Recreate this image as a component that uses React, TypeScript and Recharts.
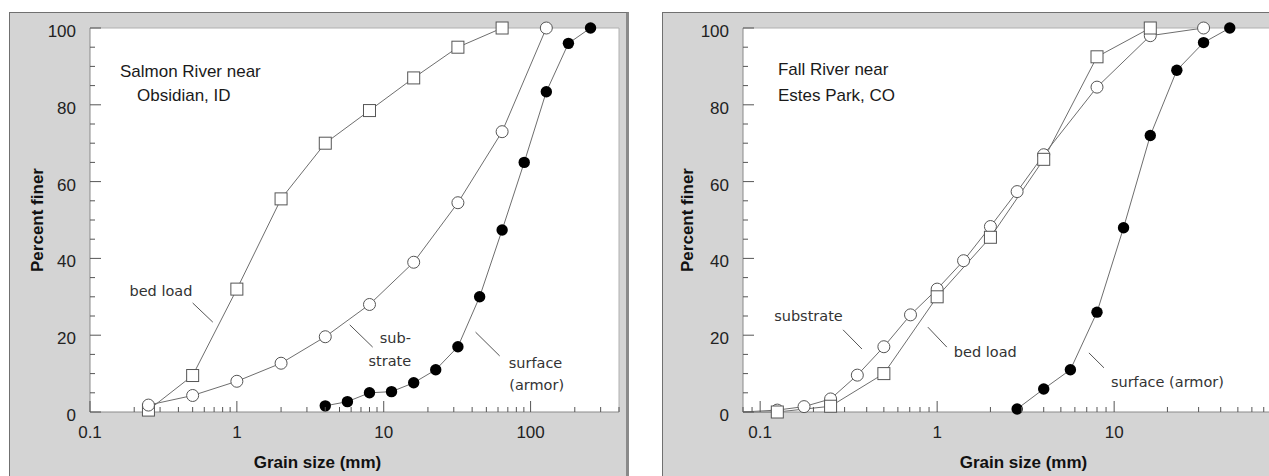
import React from 'react';
import {
  LineChart,
  Line,
  XAxis,
  YAxis,
  CartesianGrid,
  Label,
  ReferenceDot,
  ReferenceLine,
} from 'recharts';

// Salmon River near Obsidian, ID  (grain size in mm, percent finer)
const salmonBedLoadSize = [0.25, 0.5, 1, 2, 4, 8, 16, 32, 64];
const salmonBedLoadFiner = [0.5, 9.5, 32, 55.5, 70, 78.5, 87, 95, 100];
const salmonSubstrateSize = [0.25, 0.5, 1, 2, 4, 8, 16, 32, 64, 128];
const salmonSubstrateFiner = [1.8, 4.3, 8, 12.7, 19.6, 28, 39, 54.5, 73, 100];
const salmonSurfaceSize = [4, 5.66, 8, 11.3, 16, 22.6, 32, 45, 64, 90.5, 128, 181, 256];
const salmonSurfaceFiner = [1.6, 2.7, 5, 5.3, 7.6, 11, 17, 30, 47.4, 65, 83.4, 96, 100];

// Fall River near Estes Park, CO
const fallSubstrateSize = [0.08, 0.125, 0.177, 0.25, 0.354, 0.5, 0.707, 1, 1.41, 2, 2.83, 4, 8, 16, 32];
const fallSubstrateFiner = [0, 0.5, 1.4, 3.4, 9.6, 17, 25.3, 32, 39.4, 48.3, 57.4, 67, 84.6, 98, 100];
const fallBedLoadSize = [0.08, 0.125, 0.25, 0.5, 1, 2, 4, 8, 16];
const fallBedLoadFiner = [0, 0, 1.5, 10, 30, 45.5, 65.8, 92.5, 100];
const fallSurfaceSize = [2.83, 4, 5.66, 8, 11.3, 16, 22.6, 32, 45];
const fallSurfaceFiner = [0.8, 6, 11, 26, 48, 72, 89, 96.2, 100];

// axes
const salmonDomain = [0.1, 400];
const fallDomain = [0.08, 80];
const percentTicks = [0, 5, 10, 15, 20, 25, 30, 35, 40, 45, 50, 55, 60, 65, 70, 75, 80, 85, 90, 95, 100];
const percentLabels = [0, 20, 40, 60, 80, 100];
const sizeLabels = [0.1, 1, 10, 100];

const zip = (sizes: number[], finer: number[]) => sizes.map((size, i) => ({ size, finer: finer[i] }));

// 1..9 within each decade, clipped to the domain
const logTicks = ([lo, hi]: number[]) => {
  const out: number[] = [];
  for (let d = Math.floor(Math.log10(lo)); d <= Math.ceil(Math.log10(hi)); d++) {
    for (let m = 1; m <= 9; m++) {
      const v = +(m * Math.pow(10, d)).toPrecision(3);
      if (v >= lo - 1e-9 && v <= hi + 1e-9) out.push(v);
    }
  }
  return out;
};

const isLabelled = (v: number) => sizeLabels.some((s) => Math.abs(s - v) < 1e-9);

const SANS = 'Liberation Sans, Arial, Helvetica, sans-serif';
const NOTE_FONT = 'DejaVu Sans, Verdana, sans-serif';
const TICK = '#555';
const LINE = '#6e6e6e';
const MAJOR = 11;
const MINOR = 5;

const BottomTick = (p: any) => {
  const big = isLabelled(p.payload.value);
  return (
    <g>
      <line x1={p.x} y1={p.y} x2={p.x} y2={p.y - (big ? MAJOR : MINOR)} stroke={TICK} />
      {big && (
        <text x={p.x} y={p.y + 26} textAnchor="middle" fontSize={17} fontFamily={SANS} fill="#222">
          {p.payload.value}
        </text>
      )}
    </g>
  );
};

const TopTick = (p: any) => {
  const big = isLabelled(p.payload.value);
  return <line x1={p.x} y1={p.y} x2={p.x} y2={p.y + (big ? MAJOR : MINOR)} stroke={TICK} />;
};

const LeftTick = (p: any) => {
  const big = percentLabels.includes(p.payload.value);
  return (
    <g>
      <line x1={p.x} y1={p.y} x2={p.x + (big ? MAJOR : MINOR)} y2={p.y} stroke={TICK} />
      {big && (
        <text x={p.x - 14} y={p.y + 9} textAnchor="end" fontSize={17} fontFamily={SANS} fill="#222">
          {p.payload.value}
        </text>
      )}
    </g>
  );
};

const RightTick = (p: any) => {
  const big = percentLabels.includes(p.payload.value);
  return <line x1={p.x} y1={p.y} x2={p.x - (big ? MAJOR : MINOR)} y2={p.y} stroke={TICK} />;
};

// markers; points sitting on the left edge of the axis carry no marker
const hidden = (p: any, lo: number) => p.cx == null || p.payload.size <= lo;

const openSquare = (lo: number) => (p: any) =>
  hidden(p, lo) ? null : (
    <rect key={`s${p.index}`} x={p.cx - 6} y={p.cy - 6} width={12} height={12} fill="#fff" stroke="#555" />
  );
const openCircle = (lo: number) => (p: any) =>
  hidden(p, lo) ? null : <circle key={`c${p.index}`} cx={p.cx} cy={p.cy} r={6} fill="#fff" stroke="#555" />;
const solidCircle = (lo: number) => (p: any) =>
  hidden(p, lo) ? null : <circle key={`f${p.index}`} cx={p.cx} cy={p.cy} r={5.7} fill="#000" />;

type Note = { text: string; x: number; y: number; anchor: 'start' | 'middle'; title?: boolean };
type Leader = { from: [number, number]; to: [number, number] };

const salmonNotes: Note[] = [
  { text: 'Salmon River near', x: 0.16, y: 88.8, anchor: 'start', title: true },
  { text: 'Obsidian, ID', x: 0.209, y: 82.3, anchor: 'start', title: true },
  { text: 'bed load', x: 0.304, y: 31.6, anchor: 'middle' },
  { text: 'sub-', x: 12.0, y: 19.3, anchor: 'middle' },
  { text: 'strate', x: 11.0, y: 13.4, anchor: 'middle' },
  { text: 'surface', x: 108, y: 12.8, anchor: 'middle' },
  { text: '(armor)', x: 110, y: 7.0, anchor: 'middle' },
];
const salmonLeaders: Leader[] = [
  { from: [0.5, 28.4], to: [0.686, 23.4] },
  { from: [5.87, 22.7], to: [8.41, 16.9] },
  { from: [42.2, 20.8], to: [61.6, 14.6] },
];

const fallNotes: Note[] = [
  { text: 'Fall River near', x: 0.126, y: 89.1, anchor: 'start', title: true },
  { text: 'Estes Park, CO', x: 0.126, y: 82.5, anchor: 'start', title: true },
  { text: 'substrate', x: 0.1875, y: 25, anchor: 'middle' },
  { text: 'bed load', x: 1.87, y: 15.6, anchor: 'middle' },
  { text: 'surface (armor)', x: 20, y: 7.9, anchor: 'middle' },
];
const fallLeaders: Leader[] = [
  { from: [0.294, 21.4], to: [0.376, 16.4] },
  { from: [0.886, 22.1], to: [1.134, 16.9] },
  { from: [7.2, 15.4], to: [8.76, 11.5] },
];

const noteShape = (n: Note) => (p: any) => (
  <text
    x={p.cx}
    y={p.cy}
    textAnchor={n.anchor}
    dominantBaseline="central"
    fontSize={n.title ? 17 : 14.5}
    fontFamily={n.title ? SANS : NOTE_FONT}
    fill={n.title ? '#1a1a1a' : '#333'}
  >
    {n.text}
  </text>
);

type Series = { data: { size: number; finer: number }[]; dot: (p: any) => any };

type PanelProps = {
  width: number;
  margin: { top: number; right: number; bottom: number; left: number };
  domain: number[];
  series: Series[];
  notes: Note[];
  leaders: Leader[];
  yTitleGap: number;
  xTitleShift: number;
};

// axes are 1px thick so that Recharts still draws them; margins below allow for that
const Panel = ({ width, margin, domain, series, notes, leaders, yTitleGap, xTitleShift }: PanelProps) => {
  const ticks = logTicks(domain);
  return (
    <LineChart width={width} height={476} margin={margin}>
      <CartesianGrid horizontal={false} vertical={false} fill="#fff" />
      <XAxis
        xAxisId="bottom"
        dataKey="size"
        type="number"
        scale="log"
        domain={domain}
        ticks={ticks}
        interval={0}
        height={1}
        tickSize={0}
        tickMargin={0}
        tickLine={false}
        axisLine={{ stroke: '#8a8a8a' }}
        tick={(p: any) => <BottomTick {...p} />}
      >
        <Label
          content={(p: any) => (
            <text
              x={p.viewBox.x + p.viewBox.width / 2 + xTitleShift}
              y={p.viewBox.y + 56}
              textAnchor="middle"
              fontSize={17}
              fontWeight="bold"
              fontFamily={SANS}
              fill="#111"
            >
              Grain size (mm)
            </text>
          )}
        />
      </XAxis>
      <XAxis
        xAxisId="top"
        orientation="top"
        type="number"
        scale="log"
        domain={domain}
        ticks={ticks}
        interval={0}
        height={1}
        tickSize={0}
        tickMargin={0}
        tickLine={false}
        axisLine={{ stroke: '#b0b0b0' }}
        tick={(p: any) => <TopTick {...p} />}
      />
      <YAxis
        yAxisId="left"
        type="number"
        domain={[0, 100]}
        ticks={percentTicks}
        interval={0}
        width={1}
        tickSize={0}
        tickMargin={0}
        tickLine={false}
        axisLine={{ stroke: '#8a8a8a' }}
        tick={(p: any) => <LeftTick {...p} />}
      >
        <Label
          content={(p: any) => {
            const x = p.viewBox.x + p.viewBox.width - yTitleGap;
            const y = p.viewBox.y + p.viewBox.height / 2;
            return (
              <text
                x={x}
                y={y}
                transform={`rotate(-90, ${x}, ${y})`}
                textAnchor="middle"
                fontSize={17}
                fontWeight="bold"
                fontFamily={SANS}
                fill="#111"
              >
                Percent finer
              </text>
            );
          }}
        />
      </YAxis>
      <YAxis
        yAxisId="right"
        orientation="right"
        type="number"
        domain={[0, 100]}
        ticks={percentTicks}
        interval={0}
        width={1}
        tickSize={0}
        tickMargin={0}
        tickLine={false}
        axisLine={{ stroke: '#b0b0b0' }}
        tick={(p: any) => <RightTick {...p} />}
      />
      {leaders.map((l, i) => (
        <ReferenceLine
          key={`l${i}`}
          xAxisId="bottom"
          yAxisId="left"
          segment={[
            { x: l.from[0], y: l.from[1] },
            { x: l.to[0], y: l.to[1] },
          ]}
          stroke="#555"
          strokeWidth={1}
        />
      ))}
      {notes.map((n, i) => (
        <ReferenceDot
          key={`n${i}`}
          xAxisId="bottom"
          yAxisId="left"
          x={n.x}
          y={n.y}
          r={0}
          shape={noteShape(n)}
        />
      ))}
      {series.map((s, i) => (
        <Line
          key={`ser${i}`}
          xAxisId="bottom"
          yAxisId="left"
          data={s.data}
          dataKey="finer"
          type="linear"
          stroke={LINE}
          strokeWidth={1}
          dot={s.dot}
          activeDot={false}
          isAnimationActive={false}
        />
      ))}
    </LineChart>
  );
};

export default function App() {
  const salmonSeries: Series[] = [
    { data: zip(salmonBedLoadSize, salmonBedLoadFiner), dot: openSquare(0) },
    { data: zip(salmonSubstrateSize, salmonSubstrateFiner), dot: openCircle(0) },
    { data: zip(salmonSurfaceSize, salmonSurfaceFiner), dot: solidCircle(0) },
  ];
  const fallSeries: Series[] = [
    { data: zip(fallSubstrateSize, fallSubstrateFiner), dot: openCircle(fallDomain[0]) },
    { data: zip(fallBedLoadSize, fallBedLoadFiner), dot: openSquare(fallDomain[0]) },
    { data: zip(fallSurfaceSize, fallSurfaceFiner), dot: solidCircle(fallDomain[0]) },
  ];

  const frame = {
    position: 'absolute' as const,
    top: 12,
    height: 480,
    background: '#d4d4d4',
    borderTop: '1px solid #707070',
    borderLeft: '1px solid #707070',
  };

  return (
    <div
      style={{
        position: 'absolute',
        left: 0,
        top: 0,
        width: 1269,
        height: 476,
        overflow: 'hidden',
        background: '#fff',
      }}
    >
      <div style={{ ...frame, left: 9, width: 616, borderRight: '3px solid #8a8a8a' }} />
      <div style={{ ...frame, left: 662, width: 700 }} />
      <div style={{ position: 'absolute', left: 0, top: 0 }}>
        <Panel
          width={640}
          margin={{ top: 27, right: 20, bottom: 63, left: 89 }}
          domain={salmonDomain}
          series={salmonSeries}
          notes={salmonNotes}
          leaders={salmonLeaders}
          yTitleGap={47}
          xTitleShift={-37}
        />
      </div>
      <div style={{ position: 'absolute', left: 640, top: 0 }}>
        <Panel
          width={660}
          margin={{ top: 27, right: 25, bottom: 63, left: 102 }}
          domain={fallDomain}
          series={fallSeries}
          notes={fallNotes}
          leaders={fallLeaders}
          yTitleGap={50}
          xTitleShift={15}
        />
      </div>
    </div>
  );
}
